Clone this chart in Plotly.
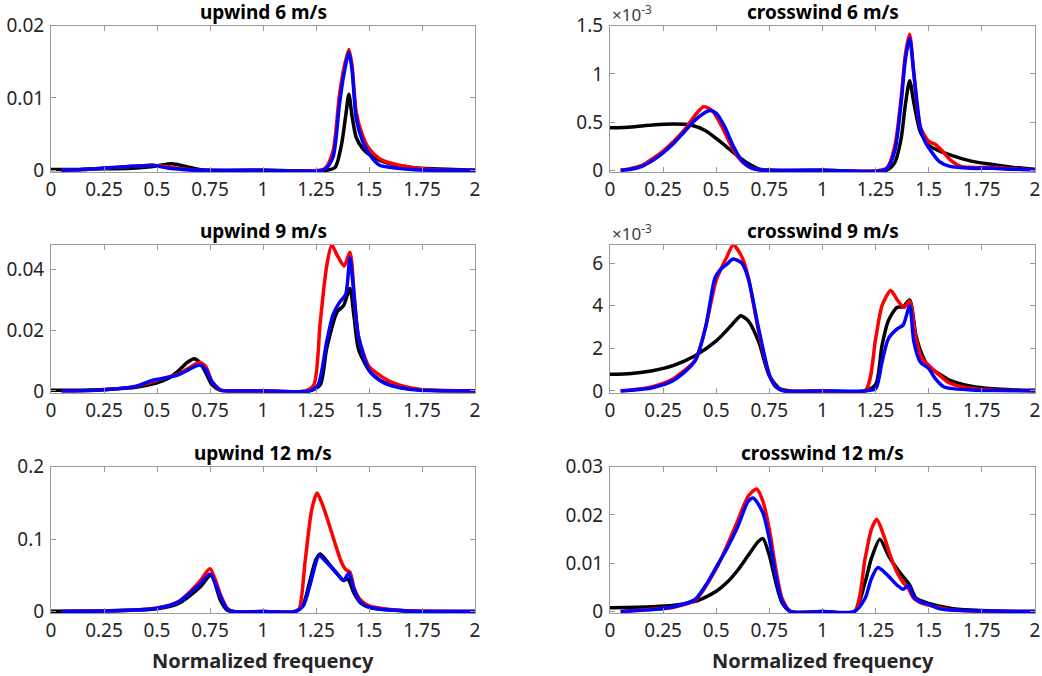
import plotly.graph_objects as go

# ---------------- data ----------------
x_ticks = [0, 0.25, 0.5, 0.75, 1, 1.25, 1.5, 1.75, 2]
x_tick_text = ["0", "0.25", "0.5", "0.75", "1", "1.25", "1.5", "1.75", "2"]
titles = ["upwind 6 m/s", "crosswind 6 m/s", "upwind 9 m/s", "crosswind 9 m/s",
          "upwind 12 m/s", "crosswind 12 m/s"]
x_label = "Normalized frequency"

# upwind 6 m/s
up6_k_x = [0, 0.1, 0.2, 0.3, 0.4, 0.5, 0.57, 0.64, 0.7, 0.75, 1.0, 1.3, 1.34, 1.37, 1.39, 1.405, 1.42, 1.44, 1.47, 1.5, 1.55, 1.6, 1.7, 1.8, 1.9, 2.0]
up6_k_y = [0.0001, 0.0001, 0.0002, 0.0002, 0.0003, 0.0006, 0.0009, 0.0005, 0.0001, 0, 0, 0, 0.0004, 0.0035, 0.0075, 0.0105, 0.0075, 0.0045, 0.003, 0.0022, 0.0014, 0.0009, 0.0004, 0.0002, 0.0001, 0]
up6_r_x = [0.05, 0.15, 0.25, 0.35, 0.42, 0.48, 0.55, 0.62, 0.7, 1.0, 1.29, 1.33, 1.36, 1.38, 1.405, 1.42, 1.44, 1.47, 1.5, 1.55, 1.6, 1.7, 1.8, 1.9, 2.0]
up6_r_y = [0, 0.0001, 0.0003, 0.0005, 0.0006, 0.0007, 0.0005, 0.0002, 0, 0, 0.0002, 0.0026, 0.0103, 0.0139, 0.0167, 0.0145, 0.008, 0.0048, 0.003, 0.0016, 0.001, 0.0004, 0.0001, 0, 0]
up6_b_x = [0.05, 0.15, 0.25, 0.35, 0.42, 0.48, 0.55, 0.62, 0.7, 1.0, 1.29, 1.33, 1.36, 1.38, 1.405, 1.42, 1.44, 1.47, 1.5, 1.55, 1.6, 1.7, 1.8, 1.9, 2.0]
up6_b_y = [0, 0.0001, 0.0003, 0.0005, 0.0006, 0.0007, 0.0003, 0.0001, 0, 0, 0.0001, 0.0018, 0.009, 0.013, 0.0163, 0.0139, 0.0071, 0.004, 0.0023, 0.0007, 0.0004, 0.0001, 0, 0, 0]

# crosswind 6 m/s (units of 1e-3)
cw6_k_x = [0, 0.1, 0.2, 0.3, 0.38, 0.45, 0.5, 0.55, 0.6, 0.65, 0.7, 0.75, 1.0, 1.3, 1.34, 1.37, 1.39, 1.41, 1.43, 1.46, 1.5, 1.55, 1.6, 1.7, 1.8, 1.9, 2.0]
cw6_k_y = [0.44, 0.45, 0.47, 0.48, 0.47, 0.41, 0.33, 0.24, 0.15, 0.07, 0.015, 0, 0, 0, 0.08, 0.33, 0.68, 0.93, 0.7, 0.4, 0.26, 0.2, 0.16, 0.095, 0.06, 0.03, 0.01]
cw6_r_x = [0.05, 0.1, 0.15, 0.2, 0.25, 0.3, 0.35, 0.4, 0.44, 0.48, 0.52, 0.56, 0.6, 0.65, 0.7, 0.75, 1.0, 1.3, 1.34, 1.37, 1.39, 1.41, 1.43, 1.46, 1.5, 1.53, 1.56, 1.6, 1.65, 1.7, 1.8, 1.9, 2.0]
cw6_r_y = [0, 0.02, 0.05, 0.12, 0.2, 0.3, 0.42, 0.57, 0.66, 0.62, 0.48, 0.3, 0.14, 0.04, 0.005, 0, 0, 0.02, 0.25, 0.75, 1.2, 1.41, 1.0, 0.45, 0.3, 0.27, 0.21, 0.11, 0.04, 0.03, 0.03, 0.015, 0.005]
cw6_b_x = [0.05, 0.1, 0.15, 0.2, 0.25, 0.3, 0.35, 0.4, 0.44, 0.47, 0.5, 0.54, 0.58, 0.62, 0.66, 0.7, 0.75, 1.0, 1.3, 1.34, 1.37, 1.39, 1.41, 1.43, 1.46, 1.48, 1.52, 1.55, 1.6, 1.7, 1.8, 1.9, 2.0]
cw6_b_y = [0, 0.01, 0.04, 0.1, 0.18, 0.28, 0.4, 0.52, 0.59, 0.62, 0.59, 0.45, 0.25, 0.1, 0.03, 0.005, 0, 0, 0.01, 0.2, 0.7, 1.15, 1.37, 1.0, 0.45, 0.31, 0.17, 0.09, 0.04, 0.02, 0.02, 0.01, 0.005]

# upwind 9 m/s
up9_k_x = [0, 0.1, 0.2, 0.3, 0.4, 0.5, 0.55, 0.6, 0.64, 0.675, 0.7, 0.73, 0.76, 0.8, 0.85, 1.0, 1.22, 1.27, 1.3, 1.35, 1.38, 1.41, 1.43, 1.45, 1.5, 1.55, 1.6, 1.7, 1.8, 2.0]
up9_k_y = [0.0002, 0.0002, 0.0003, 0.0006, 0.0012, 0.0027, 0.004, 0.0065, 0.0092, 0.0106, 0.0095, 0.006, 0.002, 0.0002, 0, 0, 0, 0.002, 0.0138, 0.026, 0.028, 0.0336, 0.024, 0.0138, 0.0068, 0.0036, 0.002, 0.0006, 0.0002, 0]
up9_r_x = [0.05, 0.15, 0.25, 0.4, 0.5, 0.55, 0.6, 0.65, 0.7, 0.73, 0.76, 0.8, 0.85, 1.0, 1.2, 1.24, 1.27, 1.3, 1.324, 1.35, 1.383, 1.41, 1.434, 1.45, 1.5, 1.55, 1.6, 1.7, 1.8, 2.0]
up9_r_y = [0, 0.0001, 0.0004, 0.0015, 0.0035, 0.0045, 0.0055, 0.0075, 0.0093, 0.008, 0.003, 0.0003, 0, 0, 0, 0.002, 0.0226, 0.0408, 0.0479, 0.0445, 0.041, 0.0455, 0.0279, 0.018, 0.008, 0.0052, 0.0031, 0.001, 0.0002, 0]
up9_b_x = [0.05, 0.15, 0.25, 0.4, 0.48, 0.52, 0.6, 0.65, 0.7, 0.73, 0.76, 0.8, 0.85, 1.0, 1.22, 1.26, 1.3, 1.33, 1.36, 1.39, 1.41, 1.43, 1.45, 1.5, 1.55, 1.6, 1.7, 1.8, 2.0]
up9_b_y = [0, 0.0001, 0.0004, 0.0015, 0.0035, 0.004, 0.0053, 0.007, 0.0085, 0.007, 0.003, 0.0003, 0, 0, 0, 0.002, 0.016, 0.025, 0.029, 0.0317, 0.0436, 0.031, 0.018, 0.0068, 0.0035, 0.0018, 0.0005, 0.0001, 0]

# crosswind 9 m/s (units of 1e-3)
cw9_k_x = [0, 0.1, 0.2, 0.3, 0.4, 0.5, 0.55, 0.6, 0.615, 0.65, 0.7, 0.75, 0.8, 0.85, 1.0, 1.2, 1.25, 1.28, 1.31, 1.35, 1.38, 1.41, 1.44, 1.47, 1.5, 1.55, 1.6, 1.7, 1.8, 1.9, 2.0]
cw9_k_y = [0.78, 0.82, 0.95, 1.2, 1.65, 2.35, 2.85, 3.4, 3.53, 3.3, 2.3, 0.7, 0.1, 0, 0, 0, 0.3, 2.13, 3.3, 3.92, 3.96, 4.27, 2.6, 1.67, 1.13, 0.8, 0.5, 0.22, 0.1, 0.05, 0.03]
cw9_r_x = [0.05, 0.15, 0.2, 0.3, 0.4, 0.45, 0.5, 0.55, 0.58, 0.62, 0.65, 0.7, 0.75, 0.78, 0.82, 1.0, 1.2, 1.25, 1.28, 1.321, 1.35, 1.384, 1.41, 1.44, 1.47, 1.5, 1.55, 1.6, 1.7, 1.8, 2.0]
cw9_r_y = [0, 0.1, 0.2, 0.59, 1.44, 3.0, 5.2, 6.3, 6.85, 6.3, 5.38, 2.75, 0.74, 0.2, 0, 0, 0, 2.45, 4.0, 4.72, 4.3, 3.92, 4.22, 2.45, 1.5, 1.2, 0.74, 0.36, 0.12, 0.05, 0]
cw9_b_x = [0.05, 0.15, 0.2, 0.3, 0.4, 0.45, 0.47, 0.494, 0.52, 0.55, 0.58, 0.62, 0.65, 0.7, 0.75, 0.78, 0.82, 1.0, 1.2, 1.25, 1.28, 1.31, 1.35, 1.38, 1.41, 1.43, 1.46, 1.5, 1.53, 1.57, 1.6, 1.7, 1.8, 2.0]
cw9_b_y = [0, 0.08, 0.15, 0.5, 1.4, 3.0, 4.1, 5.3, 5.7, 5.95, 6.19, 6.0, 5.3, 2.9, 0.75, 0.2, 0, 0, 0, 0.1, 1.36, 2.45, 2.9, 3.1, 4.0, 2.3, 1.36, 1.05, 0.59, 0.2, 0.12, 0.05, 0.02, 0]

# upwind 12 m/s
up12_k_x = [0, 0.2, 0.4, 0.5, 0.6, 0.7, 0.755, 0.8, 0.83, 0.86, 1.0, 1.15, 1.19, 1.22, 1.25, 1.27, 1.3, 1.35, 1.38, 1.4, 1.43, 1.46, 1.5, 1.6, 1.7, 2.0]
up12_k_y = [0.0005, 0.0008, 0.002, 0.004, 0.011, 0.033, 0.05, 0.015, 0.002, 0, 0, 0, 0.01, 0.041, 0.072, 0.0795, 0.07, 0.052, 0.043, 0.045, 0.025, 0.012, 0.006, 0.002, 0.0005, 0]
up12_r_x = [0.05, 0.2, 0.4, 0.5, 0.6, 0.7, 0.75, 0.8, 0.83, 0.86, 1.0, 1.15, 1.17, 1.2, 1.23, 1.255, 1.28, 1.31, 1.34, 1.37, 1.39, 1.41, 1.43, 1.46, 1.5, 1.6, 1.7, 2.0]
up12_r_y = [0, 0.0005, 0.002, 0.0048, 0.0136, 0.041, 0.059, 0.023, 0.005, 0, 0, 0, 0.003, 0.0727, 0.141, 0.1637, 0.148, 0.122, 0.094, 0.068, 0.058, 0.0545, 0.032, 0.016, 0.008, 0.003, 0.001, 0]
up12_b_x = [0.05, 0.2, 0.4, 0.5, 0.6, 0.7, 0.75, 0.8, 0.83, 0.86, 1.0, 1.15, 1.19, 1.22, 1.265, 1.3, 1.35, 1.38, 1.405, 1.43, 1.46, 1.5, 1.6, 1.7, 2.0]
up12_b_y = [0, 0.0005, 0.002, 0.0045, 0.013, 0.037, 0.052, 0.02, 0.004, 0, 0, 0, 0.008, 0.035, 0.077, 0.068, 0.052, 0.043, 0.053, 0.03, 0.013, 0.006, 0.002, 0.0005, 0]

# crosswind 12 m/s
cw12_k_x = [0, 0.2, 0.3, 0.4, 0.45, 0.5, 0.55, 0.6, 0.65, 0.7, 0.72, 0.75, 0.78, 0.81, 0.85, 1.0, 1.15, 1.2, 1.23, 1.27, 1.31, 1.35, 1.38, 1.41, 1.44, 1.5, 1.6, 1.7, 1.8, 2.0]
cw12_k_y = [0.0008, 0.001, 0.0013, 0.0021, 0.003, 0.0042, 0.006, 0.0085, 0.0116, 0.0146, 0.0151, 0.0116, 0.0061, 0.0018, 0, 0, 0, 0.006, 0.011, 0.015, 0.0116, 0.0089, 0.0072, 0.0055, 0.0028, 0.0017, 0.0007, 0.0003, 0.0001, 0]
cw12_r_x = [0.05, 0.2, 0.3, 0.4, 0.5, 0.55, 0.6, 0.65, 0.69, 0.72, 0.75, 0.78, 0.81, 0.85, 1.0, 1.15, 1.2, 1.23, 1.255, 1.29, 1.32, 1.35, 1.38, 1.4, 1.43, 1.47, 1.55, 1.6, 1.7, 2.0]
cw12_r_y = [0, 0.0005, 0.0009, 0.0023, 0.0089, 0.0136, 0.0187, 0.0239, 0.0254, 0.0228, 0.017, 0.0089, 0.0027, 0, 0, 0, 0.0109, 0.017, 0.0191, 0.0155, 0.0115, 0.0082, 0.006, 0.0051, 0.0027, 0.0017, 0.0008, 0.0004, 0.0001, 0]
cw12_b_x = [0.05, 0.2, 0.3, 0.4, 0.45, 0.5, 0.55, 0.6, 0.65, 0.675, 0.72, 0.75, 0.78, 0.81, 0.85, 1.0, 1.15, 1.2, 1.23, 1.26, 1.3, 1.35, 1.38, 1.405, 1.43, 1.46, 1.5, 1.55, 1.6, 2.0]
cw12_b_y = [0, 0.0004, 0.001, 0.0025, 0.0054, 0.0092, 0.013, 0.0175, 0.0228, 0.0235, 0.0204, 0.015, 0.0075, 0.0022, 0, 0, 0, 0.0027, 0.0068, 0.0091, 0.0078, 0.0055, 0.0046, 0.0054, 0.003, 0.002, 0.0015, 0.0006, 0.0003, 0]

# y-axis settings per panel
y_max = [0.02, 1.5e-3, 0.0479, 6.85e-3, 0.2, 0.03]
y_tickvals = [[0, 0.01, 0.02], [0, 0.5e-3, 1e-3, 1.5e-3], [0, 0.02, 0.04],
              [0, 2e-3, 4e-3, 6e-3], [0, 0.1, 0.2], [0, 0.01, 0.02, 0.03]]
y_ticktext = [["0", "0.01", "0.02"], ["0", "0.5", "1", "1.5"], ["0", "0.02", "0.04"],
              ["0", "2", "4", "6"], ["0", "0.1", "0.2"], ["0", "0.01", "0.02", "0.03"]]
y_scale = [1, 1e-3, 1, 1e-3, 1, 1]

series = [
    [(up6_k_x, up6_k_y), (up6_r_x, up6_r_y), (up6_b_x, up6_b_y)],
    [(cw6_k_x, cw6_k_y), (cw6_r_x, cw6_r_y), (cw6_b_x, cw6_b_y)],
    [(up9_k_x, up9_k_y), (up9_r_x, up9_r_y), (up9_b_x, up9_b_y)],
    [(cw9_k_x, cw9_k_y), (cw9_r_x, cw9_r_y), (cw9_b_x, cw9_b_y)],
    [(up12_k_x, up12_k_y), (up12_r_x, up12_r_y), (up12_b_x, up12_b_y)],
    [(cw12_k_x, cw12_k_y), (cw12_r_x, cw12_r_y), (cw12_b_x, cw12_b_y)],
]
colors = ["#000000", "#ff0000", "#0000ff"]

# ---------------- layout geometry ----------------
W, H = 1042, 676
col_px = [(51, 475), (610, 1035)]
row_px = [(25.7, 172), (245, 392.7), (466.7, 613.3)]

FONT = "Noto Sans"
fig = go.Figure()
annotations = []
layout = dict(
    width=W, height=H, margin=dict(l=0, r=0, t=0, b=0, autoexpand=False),
    paper_bgcolor="white", plot_bgcolor="white", showlegend=False,
    font=dict(family=FONT, color="#262626"),
)
axis_color = "#9a9a9a"
for i in range(6):
    r, c = divmod(i, 2)
    idx = i + 1
    sfx = "" if idx == 1 else str(idx)
    x0, x1 = col_px[c]
    t0, t1 = row_px[r]
    ymax = y_max[i]
    for (xs, ys), col in zip(series[i], colors):
        fig.add_trace(go.Scatter(
            x=xs, y=[v * y_scale[i] for v in ys], mode="lines",
            line=dict(color=col, width=3.5, shape="spline", smoothing=0.7),
            xaxis="x" + sfx, yaxis="y" + sfx, hoverinfo="skip"))
    layout["xaxis" + sfx] = dict(
        domain=[x0 / W, x1 / W], range=[0, 2], anchor="y" + sfx, automargin=False,
        tickvals=x_ticks, ticktext=x_tick_text, ticks="inside", ticklen=5,
        tickcolor=axis_color, showline=True, linecolor=axis_color, linewidth=1,
        mirror="ticks", showgrid=False, zeroline=False,
        tickfont=dict(family=FONT, size=19, color="#262626"),
    )
    layout["yaxis" + sfx] = dict(
        domain=[1 - t1 / H, 1 - t0 / H], range=[-ymax * 0.012, ymax],
        anchor="x" + sfx, automargin=False, tickvals=y_tickvals[i], ticktext=y_ticktext[i],
        ticks="inside", ticklen=5, tickcolor=axis_color, showline=True,
        linecolor=axis_color, linewidth=1, mirror="ticks", showgrid=False,
        zeroline=False, tickfont=dict(family=FONT, size=19, color="#262626"),
        ticklabelstandoff=2,
    )
    annotations.append(dict(
        text="<b>" + titles[i] + "</b>", x=(x0 + x1) / 2 / W, y=1 - t0 / H,
        xref="paper", yref="paper", xanchor="center", yanchor="bottom",
        yshift=-1, showarrow=False, font=dict(family=FONT, size=19, color="#000000")))
    if y_scale[i] != 1:
        annotations.append(dict(
            text="×10<sup>-3</sup>", x=x0 / W, y=1 - t0 / H, xref="paper",
            yref="paper", xanchor="left", yanchor="bottom", yshift=-2, showarrow=False,
            font=dict(family=FONT, size=17, color="#404040")))
    if r == 2:
        annotations.append(dict(
            text="<b>" + x_label + "</b>", x=(x0 + x1) / 2 / W, y=1 - 660 / H,
            xref="paper", yref="paper", xanchor="center", yanchor="middle",
            showarrow=False, font=dict(family=FONT, size=20, color="#262626")))

layout["annotations"] = annotations
fig.update_layout(**layout)
fig.write_html("out.html", config={"displayModeBar": False},
               post_script="document.body.style.margin='0';document.body.style.overflow='hidden';")
